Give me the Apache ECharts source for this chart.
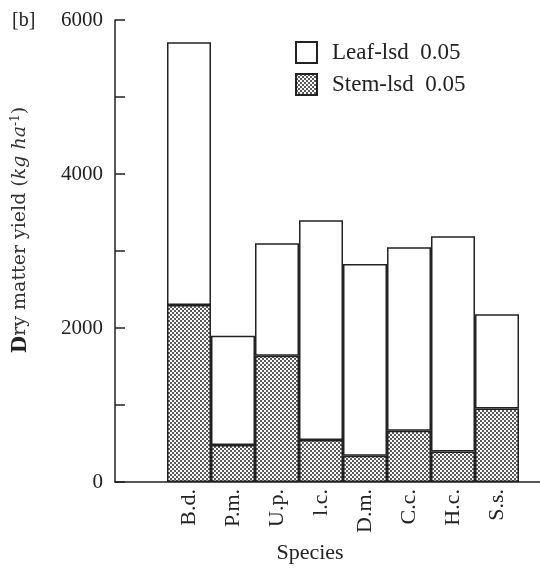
<!DOCTYPE html>
<html>
<head>
<meta charset="utf-8">
<script src="https://cdn.jsdelivr.net/npm/echarts@6/dist/echarts.min.js"></script>
<style>
  html, body { margin: 0; padding: 0; background: #fff; }
  #chart { width: 540px; height: 572px; }
</style>
</head>
<body>
<div id="chart"></div>
<script>
// species along the x axis
var species = ['B.d.', 'P.m.', 'U.p.', 'l.c.', 'D.m.', 'C.c.', 'H.c.', 'S.s.'];
// stem part (bottom, stippled) and leaf part (top, white), kg/ha
var stemYield = [2300, 480, 1640, 545, 340, 665, 395, 955];
var leafYield = [3410, 1420, 1460, 2855, 2490, 2385, 2795, 1225];
var yTicks = [0, 2000, 4000, 6000];

var serif = '"Liberation Serif", "DejaVu Serif", serif';
var wideSerif = '"DejaVu Serif", serif';

// stipple pattern for the stem bars
function makeDots() {
    var c = document.createElement('canvas');
    c.width = 4; c.height = 4;
    var ctx = c.getContext('2d');
    ctx.fillStyle = '#fff';
    ctx.fillRect(0, 0, 4, 4);
    ctx.fillStyle = '#222';
    ctx.beginPath(); ctx.arc(1, 1, 1, 0, Math.PI * 2); ctx.fill();
    ctx.beginPath(); ctx.arc(3, 3, 1, 0, Math.PI * 2); ctx.fill();
    return c;
}
var dots = { image: makeDots(), repeat: 'repeat' };

// empty slot before and after the bars
var cats = [''].concat(species, ['']);
var pad = function (arr) { return ['-'].concat(arr, ['-']); };

var chart = echarts.init(document.getElementById('chart'));

var option = {
    animation: false,
    title: {
        text: '[b]', left: 7, top: 6,
        textStyle: { fontFamily: serif, fontSize: 20, fontWeight: 'normal', color: '#222' }
    },
    legend: {
        data: ['Leaf-lsd  0.05', 'Stem-lsd  0.05'],
        orient: 'vertical',
        left: 290, top: 36,
        itemWidth: 21, itemHeight: 21, itemGap: 9,
        icon: 'rect',
        textStyle: { fontFamily: serif, fontSize: 23, color: '#222', padding: [0, 0, 0, 10] }
    },
    grid: [
        // axes frame
        { left: 115, right: 0, top: 20, bottom: 90, outerBoundsMode: 'none' },
        // bars, 44px per slot (last empty slot runs past the edge)
        { left: 123, width: 440, top: 20, bottom: 90, outerBoundsMode: 'none' }
    ],
    xAxis: [
        {
            gridIndex: 0, type: 'value', min: 0, max: 1,
            axisLine: { show: true, lineStyle: { color: '#222', width: 1.5 } },
            axisTick: { show: false }, axisLabel: { show: false }, splitLine: { show: false }
        },
        {
            gridIndex: 1, type: 'category', data: cats,
            axisLine: { show: false }, axisTick: { show: false },
            axisLabel: {
                rotate: 90, margin: 7, interval: 0,
                fontFamily: serif, fontSize: 22, color: '#222'
            },
            name: 'Species', nameLocation: 'middle', nameGap: 60,
            nameTextStyle: { fontFamily: serif, fontSize: 22, color: '#222', padding: [0, 66, 0, 0] }
        }
    ],
    yAxis: [
        {
            gridIndex: 0, type: 'value', min: 0, max: 6000, interval: 1000,
            axisLine: { show: true, lineStyle: { color: '#222', width: 1.5 } },
            axisTick: { show: true, inside: true, length: 10, lineStyle: { color: '#222', width: 1.5 } },
            axisLabel: {
                fontFamily: serif, fontSize: 21, color: '#222', margin: 12,
                formatter: function (v) { return yTicks.indexOf(v) >= 0 ? String(v) : ''; }
            },
            splitLine: { show: false },
            name: '{b|D}ry matter yield ({i|kg ha}{s|-1})',
            nameLocation: 'middle', nameGap: 84,
            nameTextStyle: {
                fontFamily: wideSerif, fontSize: 19, color: '#333', padding: [0, 0, 0, 42],
                rich: {
                    b: { fontFamily: wideSerif, fontSize: 20, fontWeight: 'bold', color: '#222' },
                    i: { fontFamily: wideSerif, fontSize: 19, fontStyle: 'italic', color: '#333' },
                    s: { fontFamily: wideSerif, fontSize: 12, color: '#333', verticalAlign: 'top', padding: [0, 0, 9, 0] }
                }
            }
        },
        { gridIndex: 1, type: 'value', min: 0, max: 6000, show: false }
    ],
    series: [
        {
            name: 'Stem-lsd  0.05', type: 'bar', stack: 'y',
            xAxisIndex: 1, yAxisIndex: 1,
            barWidth: '100%',
            data: pad(stemYield),
            itemStyle: { color: dots, borderColor: '#222', borderWidth: 1.5 }
        },
        {
            name: 'Leaf-lsd  0.05', type: 'bar', stack: 'y',
            xAxisIndex: 1, yAxisIndex: 1,
            barWidth: '100%',
            data: pad(leafYield),
            itemStyle: { color: '#fff', borderColor: '#222', borderWidth: 1.5 }
        }
    ]
};

chart.setOption(option);
</script>
</body>
</html>
